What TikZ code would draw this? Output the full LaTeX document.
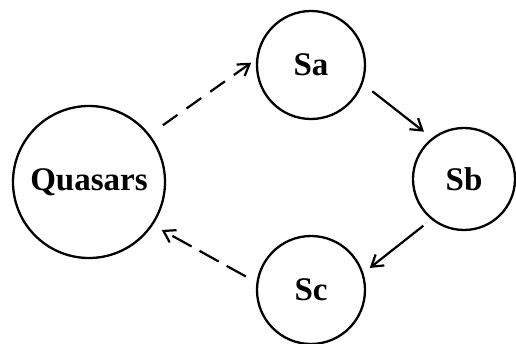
\documentclass[tikz,border=0pt]{standalone}
\usepackage{fontspec}
\setmainfont{Liberation Serif}
\usetikzlibrary{arrows.meta}

\begin{document}
\begin{tikzpicture}[x=1pt,y=-1pt]

      \tikzstyle{StarBlock} = [
      circle,
      draw=black,
      line width=2.3pt,
      fill=white,
      inner sep=0pt,
      font=\fontsize{33}{38}\selectfont\bfseries
      ]

      \tikzstyle{Flow} = [
      line width=2.2pt,
      -{Straight Barb[length=11pt,width=14pt,line width=2.2pt]}
      ]

      \useasboundingbox (0,0) rectangle (516,344);

      \node (Quasars) [StarBlock, minimum size=152pt] at (89,182) {Quasars};
      \node (Sa) [StarBlock, minimum size=108pt] at (311,65) {Sa};
      \node (Sb) [StarBlock, minimum size=102pt] at (464,179) {Sb};
      \node (Sc) [StarBlock, minimum size=108pt] at (311,290) {Sc};

      \draw [Flow, dash pattern=on 18pt off 11pt, shorten <=16pt, shorten >=6pt] (Quasars.38) -- (Sa.174);
      \draw [Flow, shorten <=12pt, shorten >=10pt] (Sa.340) -- (Sb.128);
      \draw [Flow, shorten <=10pt, shorten >=8pt] (Sb.231) -- (Sc.18);
      \draw [Flow, dash pattern=on 22pt off 9pt, shorten <=12pt, shorten >=10pt] (Sc.172) -- (Quasars.326);

    \end{tikzpicture}
\end{document}
